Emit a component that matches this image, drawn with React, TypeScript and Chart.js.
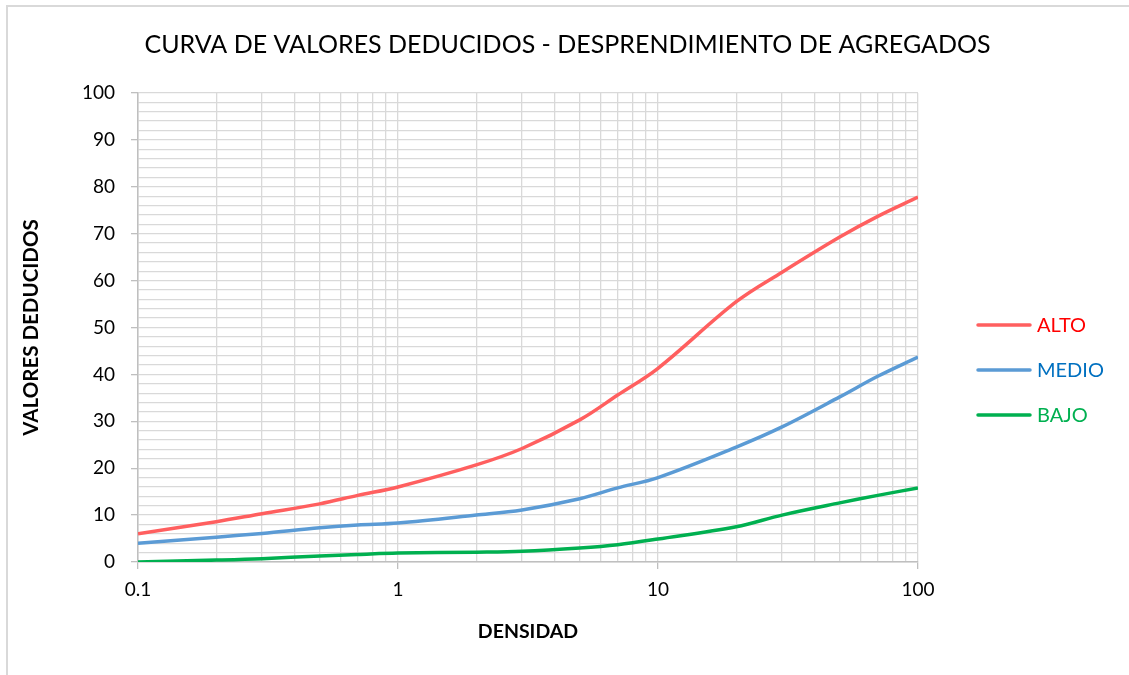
import React, { useEffect, useRef } from "react";
import { Chart, registerables } from "chart.js";

Chart.register(...registerables);

const TITLE = "CURVA DE VALORES DEDUCIDOS - DESPRENDIMIENTO DE AGREGADOS";
const X_TITLE = "DENSIDAD";
const Y_TITLE = "VALORES DEDUCIDOS";

const DENSIDAD = [0.1, 0.2, 0.3, 0.5, 0.7, 1, 2, 3, 5, 7, 10, 20, 30, 50, 70, 100];
const ALTO = [6, 8.6, 10.3, 12.4, 14.2, 16.0, 20.7, 24.2, 30.3, 35.6, 41.3, 55.5, 61.8, 69.3, 73.7, 77.8];
const MEDIO = [4, 5.3, 6.1, 7.3, 7.9, 8.3, 10.0, 11.1, 13.5, 15.8, 18.0, 24.5, 28.8, 35.2, 39.6, 43.7];
const BAJO = [0, 0.4, 0.7, 1.3, 1.6, 1.9, 2.1, 2.3, 3.0, 3.7, 4.9, 7.5, 10.0, 12.6, 14.2, 15.8];

const SERIES_NAMES = ["ALTO", "MEDIO", "BAJO"];
const LINE_COLORS = ["#FF5F5F", "#5B9BD5", "#00B050"];
const LEGEND_TEXT_COLORS = ["#FF0000", "#0070C0", "#00B050"];

const X_MIN = 0.1;
const X_MAX = 100;
const X_LABELS = [0.1, 1, 10, 100];
const Y_MIN = 0;
const Y_MAX = 100;
const Y_MINOR_STEP = 2;
const Y_MAJOR_STEP = 10;

const FONT = "Lato, 'Open Sans', sans-serif";

const titlePlugin = {
  id: "centeredTitle",
  afterDraw(chart: any) {
    const ctx = chart.ctx;
    ctx.save();
    ctx.fillStyle = "#000";
    ctx.font = `25px ${FONT}`;
    ctx.textAlign = "center";
    ctx.textBaseline = "middle";
    ctx.fillText(TITLE, chart.width / 2 + 3, 45);
    ctx.restore();
  },
};

const legendPlugin = {
  id: "customLegend",
  afterDraw(chart: any) {
    const ctx = chart.ctx;
    ctx.save();
    chart.data.datasets.forEach((ds: any, i: number) => {
      const y = 325 + 45 * i;
      ctx.beginPath();
      ctx.strokeStyle = ds.borderColor;
      ctx.lineWidth = 3.5;
      ctx.lineCap = "round";
      ctx.moveTo(978, y);
      ctx.lineTo(1030, y);
      ctx.stroke();
      ctx.fillStyle = LEGEND_TEXT_COLORS[i];
      ctx.font = `20px ${FONT}`;
      ctx.textBaseline = "middle";
      ctx.textAlign = "left";
      ctx.fillText(ds.label, 1037, y + 1);
    });
    ctx.restore();
  },
};

function isDecade(v: number) {
  return X_LABELS.some((d) => Math.abs(d - v) < 1e-9);
}

export default function App() {
  const ref = useRef<HTMLCanvasElement | null>(null);

  useEffect(() => {
    if (!ref.current) return;
    const seriesData = [ALTO, MEDIO, BAJO];
    const chart = new Chart(ref.current, {
      type: "line",
      data: {
        datasets: seriesData.map((vals, i) => ({
          label: SERIES_NAMES[i],
          data: DENSIDAD.map((x, j) => ({ x, y: vals[j] })),
          borderColor: LINE_COLORS[i],
          backgroundColor: LINE_COLORS[i],
          borderWidth: 3.5,
          pointRadius: 0,
          tension: 0.35,
          fill: false,
        })),
      },
      options: {
        responsive: false,
        animation: false,
        layout: { padding: { left: 8, right: 211, top: 93, bottom: 0 } },
        plugins: {
          legend: { display: false },
          tooltip: { enabled: false },
          title: { display: false },
        },
        scales: {
          x: {
            type: "logarithmic",
            min: X_MIN,
            max: X_MAX,
            afterBuildTicks(scale: any) {
              const ticks: any[] = [];
              for (let d = X_MIN; d < X_MAX * 0.999; d *= 10) {
                for (let m = 1; m <= 9; m++) ticks.push({ value: +(d * m).toPrecision(6) });
              }
              ticks.push({ value: X_MAX });
              scale.ticks = ticks;
            },
            afterFit(scale: any) {
              scale.height = 113;
            },
            ticks: {
              autoSkip: false,
              maxRotation: 0,
              padding: 9,
              color: "#000",
              font: { family: FONT, size: 19 },
              callback: (v: any) => (isDecade(+v) ? String(+v) : ""),
            },
            grid: {
              color: "#d9d9d9",
              lineWidth: 1.3,
              tickLength: 7,
              tickColor: (c: any) => (c.tick && isDecade(c.tick.value) ? "#bfbfbf" : "rgba(0,0,0,0)"),
            },
            border: { color: "#bfbfbf", width: 1.5 },
            title: {
              display: true,
              text: X_TITLE,
              color: "#000",
              font: { family: FONT, size: 19.5, weight: "bold" },
              padding: { top: 0, bottom: 32 },
            },
          },
          y: {
            min: Y_MIN,
            max: Y_MAX,
            afterFit(scale: any) {
              scale.width = 130;
            },
            ticks: {
              stepSize: Y_MINOR_STEP,
              autoSkip: false,
              padding: 16,
              color: "#000",
              font: { family: FONT, size: 19 },
              callback: (v: any) => (+v % Y_MAJOR_STEP === 0 ? String(v) : ""),
            },
            grid: {
              color: "#d9d9d9",
              lineWidth: 1.3,
              tickLength: 7,
              tickColor: (c: any) => (c.tick && c.tick.value % Y_MAJOR_STEP === 0 ? "#bfbfbf" : "rgba(0,0,0,0)"),
            },
            border: { color: "#bfbfbf", width: 1.5 },
            title: {
              display: true,
              text: Y_TITLE,
              color: "#000",
              font: { family: FONT, size: 20.5, weight: "bold" },
              padding: { top: 11, bottom: 0 },
            },
          },
        },
      },
      plugins: [titlePlugin, legendPlugin],
    });
    return () => chart.destroy();
  }, []);

  return (
    <div style={{ position: "fixed", left: 0, top: 0, width: 1129, height: 675, background: "#fff" }}>
      <div
        style={{
          position: "absolute",
          left: 6,
          top: 5,
          right: 0,
          bottom: 0,
          borderTop: "2px solid #d9d9d9",
          borderLeft: "2px solid #d9d9d9",
        }}
      />
      <canvas ref={ref} width={1129} height={675} style={{ position: "absolute", left: 0, top: 0 }} />
    </div>
  );
}
